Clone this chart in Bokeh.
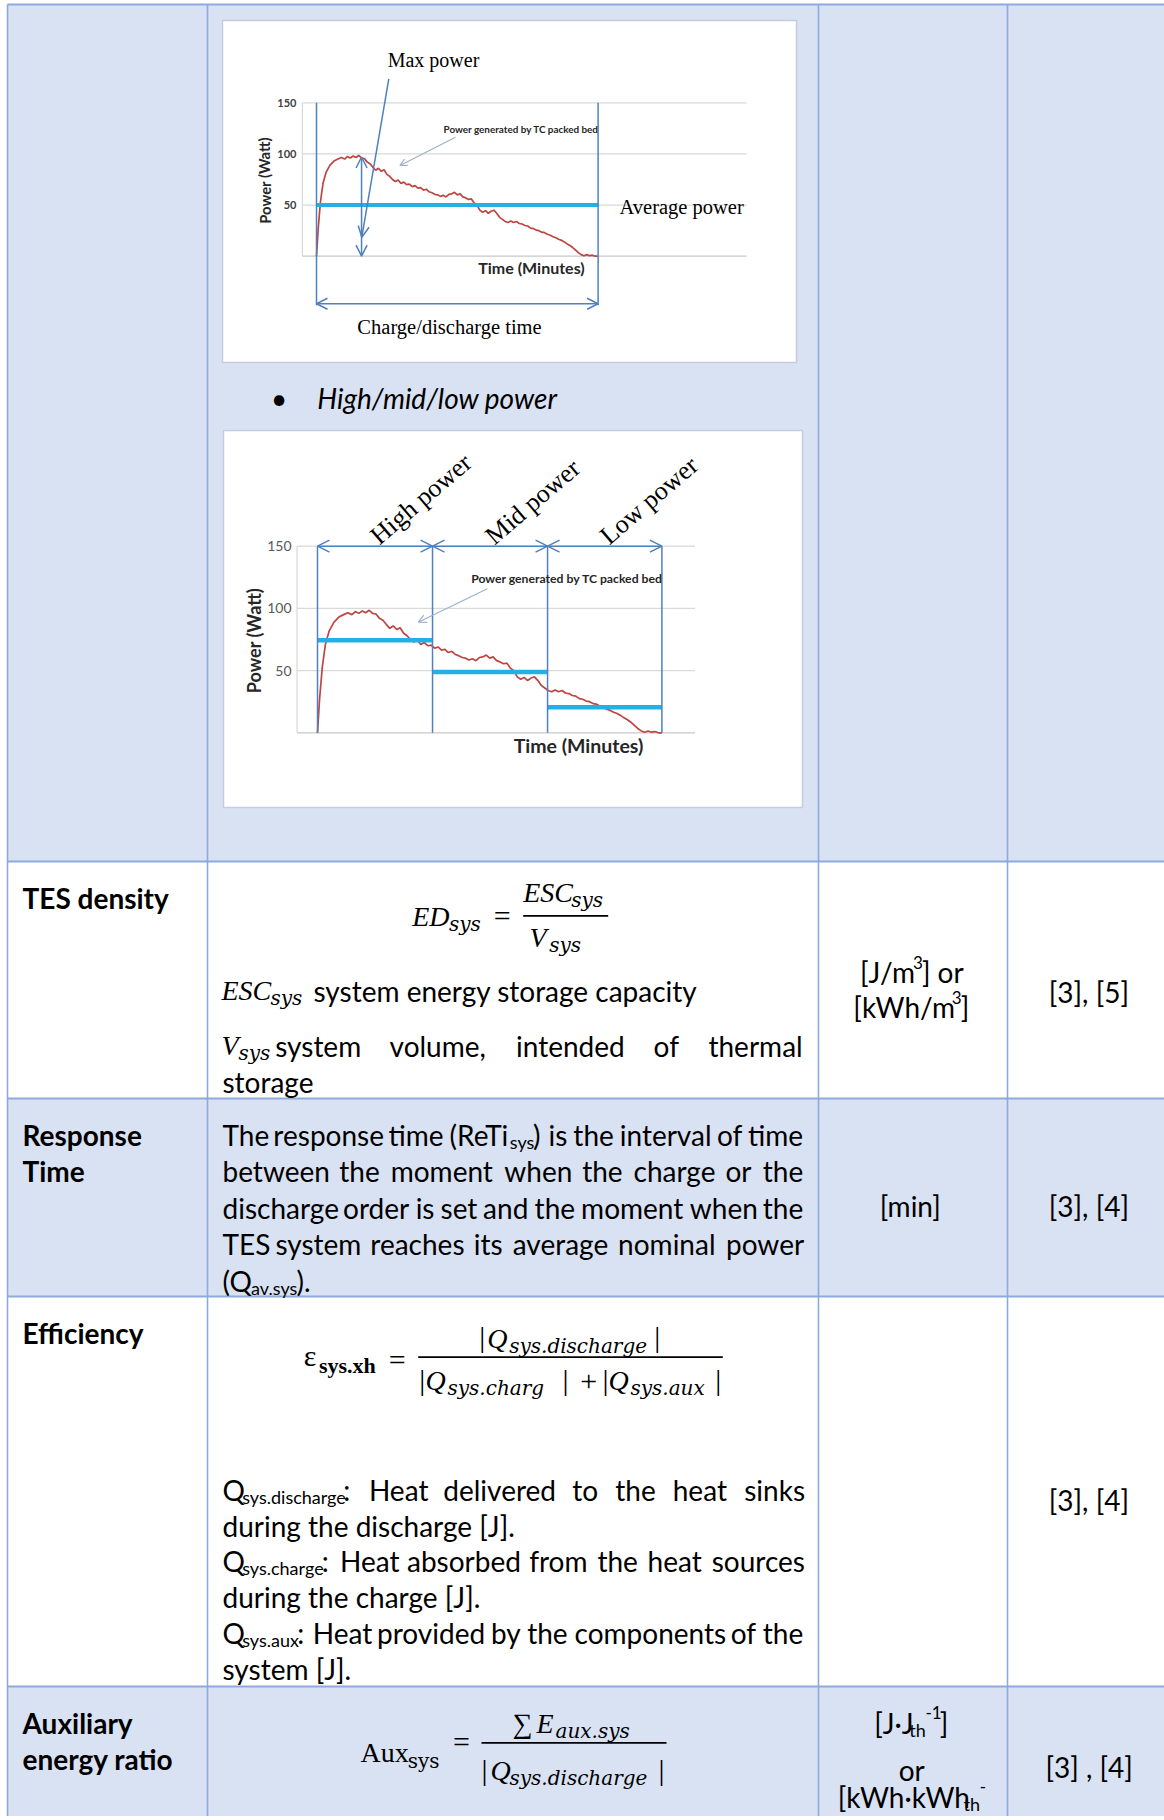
import re
from bokeh.plotting import figure
from bokeh.models import Range1d, ColumnDataSource, Arrow, OpenHead
from bokeh.core.properties import value
from bokeh.embed import file_html
from bokeh.resources import INLINE

# ---------------- data ----------------
time_rel = [0, 0.6, 1.4, 2.3, 3.4, 4.8, 6.2, 7.6, 8.8, 10, 11, 12, 13, 14, 15, 16, 17, 18, 19, 20,
            21, 22, 23, 24, 25, 26, 27, 28, 29, 30, 31, 32, 33, 34, 35, 36, 37, 38, 39, 40,
            41, 42, 43, 44, 45, 46, 47, 48, 49, 50, 51, 52, 53, 54, 55, 56, 57, 58, 59, 60,
            61, 62, 63, 64, 65, 66, 67, 68, 69, 70, 71, 72, 73, 74, 75, 76, 77, 78, 79, 80,
            81, 82, 83, 84, 85, 86, 87, 88, 89, 90, 91, 92, 93, 94, 95, 96, 97, 98, 99, 100]
power_w = [0, 27, 53, 71, 82, 89, 93, 95, 96.5, 95, 97.5, 96, 98, 96.5, 98.5, 96, 95.5, 92, 90.5, 87,
           84, 86, 83, 84.5, 80, 78, 75, 73, 74.5, 71, 72.5, 70, 70.5, 68, 69, 66.5, 67, 64.5, 65.5, 63,
           62, 60.5, 60, 58.5, 59.5, 58, 60.5, 61, 62.5, 60, 61, 58, 57, 55.5, 56, 52, 50, 45, 43, 44.5,
           42, 44, 45, 42, 38, 36, 34, 33, 34.5, 33, 34, 32, 31.5, 30, 29.5, 27.5, 27, 25.5, 25, 23.5,
           23, 21.5, 20.5, 19, 18, 16.5, 15.5, 14, 12, 10.5, 8.5, 6, 3.5, 1.5, 0.5, 1.5, 0.5, 1, 0, 0]
tick_values = [50, 100, 150]
avg_power = 50
phase_names = ["High power", "Mid power", "Low power"]
phase_edges = [0, 33.4, 66.8, 100]
phase_avg = [74.3, 48.8, 20.6]

# ---------------- table texts ----------------
row_labels = ["TES density", "Response", "Time", "Efficiency", "Auxiliary", "energy ratio"]
row_label_y = [897, 1134, 1170, 1332, 1722.7, 1758]
unit_lines = ["[J/m^{3}] or", "[kWh/m^{3}]", "[min]", "[J·J_{th}^{-1}]", "or", "[kWh·kWh_{th}^{-}"]
unit_y = [971.7, 1006.7, 1205.7, 1722, 1769, 1796]
ref_lines = ["[3], [5]", "[3], [4]", "[3], [4]", "[3] , [4]"]
ref_y = [991, 1205.7, 1499.6, 1766.7]
resp_lines = ["The response time (ReTi_{sys}) is the interval of time",
              "between the moment when the charge or the",
              "discharge order is set and the moment when the",
              "TES system reaches its average nominal power",
              "(Q_{av.sys})."]
resp_just = [True, True, True, True, False]
resp_y = [1134, 1170.5, 1207, 1243.5, 1280]
eff_lines = ["Q_{sys.discharge}: Heat delivered to the heat sinks",
             "during the discharge [J].",
             "Q_{sys.charge}: Heat absorbed from the heat sources",
             "during the charge [J].",
             "Q_{sys.aux}: Heat provided by the components of the",
             "system [J]."]
eff_just = [True, False, True, False, True, False]
eff_y = [1489.5, 1525, 1560.5, 1596, 1632, 1668.6]

# ---------------- page / figure ----------------
W, H = 1164, 1816
X0, X1, Y0, Y1 = 0, W, 0, H
p = figure(width=W, height=H, x_range=Range1d(X0, X1), y_range=Range1d(Y1, Y0),
           output_backend="svg", toolbar_location=None, x_axis_type=None, y_axis_type=None,
           min_border=0, outline_line_color=None)
p.background_fill_color = "white"
p.border_fill_color = "white"


def lin_range(px_a, v_a, px_b, v_b, px_start, px_end):
    k = (v_b - v_a) / (px_b - px_a)
    return Range1d(start=v_a + (px_start - px_a) * k, end=v_a + (px_end - px_a) * k)


p.extra_x_ranges = {"c1x": lin_range(316, 0, 597.6, 100, X0, X1),
                    "c2x": lin_range(317, 0, 661.4, 100, X0, X1)}
p.extra_y_ranges = {"c1y": lin_range(255.7, 0, 102.3, 150, Y1, Y0),
                    "c2y": lin_range(732.3, 0, 545.7, 150, Y1, Y0)}

SHADE = "#D9E2F3"
RULE = "#8EAADB"
BLUE = "#4F81BD"
CYAN = "#22B0E6"
RED = "#BE4540"
GRID = "#D9D9D9"


def T(x, y, s, size, font="Lato", style="normal", color="#000000", align="left",
      baseline="middle", angle=0.0, xr="default", yr="default", xo=0, yo=0):
    p.text(x=[x], y=[y], text=[s], text_font=value(font), text_font_size=value(f"{size:.1f}px"),
           text_font_style=style, text_color=color, text_align=align, text_baseline=baseline,
           angle=angle, x_offset=xo, y_offset=yo, x_range_name=xr, y_range_name=yr)


# ---------------- table structure ----------------
row_edges = [4, 861, 1098, 1296, 1686, 1830]
row_fill = [SHADE, "white", SHADE, "white", SHADE]
col_edges = [7, 207, 818, 1007, 1170]
p.quad(left=col_edges[0], right=col_edges[-1], top=row_edges[:-1], bottom=row_edges[1:],
       fill_color=row_fill, line_color=None)
p.segment(x0=col_edges, x1=col_edges, y0=row_edges[0], y1=row_edges[-1], line_color=RULE, line_width=1.6)
p.segment(x0=col_edges[0], x1=col_edges[-1], y0=row_edges, y1=row_edges, line_color=RULE, line_width=2.2)

# picture frames
p.quad(left=[222, 223], right=[796, 802], top=[20, 430], bottom=[362, 807],
       fill_color="white", line_color="#C5CBE0", line_width=1.5)

# ---------------- chart 1 ----------------
c1 = dict(x_range_name="c1x", y_range_name="c1y")
c1_t = (-5.0, 152.7)
p.segment(x0=c1_t[0], x1=c1_t[1], y0=tick_values, y1=tick_values, line_color=GRID, line_width=1.2, **c1)
p.segment(x0=c1_t[0], x1=c1_t[1], y0=0, y1=0, line_color="#C8C8C8", line_width=1.2, **c1)
p.segment(x0=c1_t[0], x1=c1_t[0], y0=0, y1=max(tick_values), line_color=GRID, line_width=1.2, **c1)
p.text(x=[c1_t[0]] * len(tick_values), y=tick_values, text=[str(v) for v in tick_values],
       text_font=value("Lato"), text_font_size="11px", text_font_style="bold", text_color="#404040",
       text_align="right", text_baseline="middle", x_offset=-6, **c1)
src = ColumnDataSource(dict(t=time_rel, pw=power_w))
p.line("t", "pw", source=src, line_color=RED, line_width=1.7, **c1)
p.segment(x0=time_rel[0], x1=time_rel[-1], y0=avg_power, y1=avg_power, line_color=CYAN, line_width=4, **c1)
p.segment(x0=[time_rel[0], time_rel[-1]], x1=[time_rel[0], time_rel[-1]], y0=150, y1=-48,
          line_color=BLUE, line_width=1.5, **c1)
p.add_layout(Arrow(start=OpenHead(size=11, line_color=BLUE, line_width=1.5),
                   end=OpenHead(size=11, line_color=BLUE, line_width=1.5),
                   x_start=time_rel[0], y_start=-46.5, x_end=time_rel[-1], y_end=-46.5,
                   line_color=BLUE, line_width=1.5, **c1))
i_peak = power_w.index(max(power_w))
t_peak = time_rel[i_peak] + 1
p.add_layout(Arrow(start=OpenHead(size=11, line_color=BLUE, line_width=1.5),
                   end=OpenHead(size=11, line_color=BLUE, line_width=1.5),
                   x_start=t_peak, y_start=power_w[i_peak] - 1.5, x_end=t_peak, y_end=0,
                   line_color=BLUE, line_width=1.5, **c1))
p.add_layout(Arrow(end=OpenHead(size=11, line_color=BLUE, line_width=1.5),
                   x_start=388.3, y_start=78.3, x_end=361.3, y_end=236.7,
                   line_color=BLUE, line_width=1.5))
p.add_layout(Arrow(end=OpenHead(size=7, line_color="#9FB0C8", line_width=1.2),
                   x_start=455, y_start=136.7, x_end=399.4, y_end=165,
                   line_color="#9FB0C8", line_width=1.2))
T(433, 59, "Max power", 20, font="Liberation Serif", align="center")
T(619, 206, "Average power", 20.5, font="Liberation Serif")
T(449, 326, "Charge/discharge time", 20.5, font="Liberation Serif", align="center")
T(264, 180, "Power (Watt)", 14.8, style="bold", color="#262626", align="center", angle=1.5708)
T(531, 267, "Time (Minutes)", 16, style="bold", color="#262626", align="center")
T(443, 128, "Power generated by TC packed bed", 9.9, style="bold", color="#262626")

# ---------------- bullet ----------------
T(278.5, 397, "•", 28, align="center")
T(316.8, 397, "High/mid/low power", 28, style="italic")

# ---------------- chart 2 ----------------
c2 = dict(x_range_name="c2x", y_range_name="c2y")
c2_t = (-5.95, 109.6)
p.segment(x0=c2_t[0], x1=c2_t[1], y0=tick_values, y1=tick_values, line_color=GRID, line_width=1.2, **c2)
p.segment(x0=c2_t[0], x1=c2_t[1], y0=0, y1=0, line_color="#C8C8C8", line_width=1.2, **c2)
p.segment(x0=c2_t[0], x1=c2_t[0], y0=0, y1=max(tick_values), line_color=GRID, line_width=1.2, **c2)
p.text(x=[c2_t[0]] * len(tick_values), y=tick_values, text=[str(v) for v in tick_values],
       text_font=value("Lato"), text_font_size="14px", text_color="#595959",
       text_align="right", text_baseline="middle", x_offset=-5.5, **c2)
p.line("t", "pw", source=src, line_color=RED, line_width=1.7, **c2)
p.segment(x0=phase_edges[:-1], x1=phase_edges[1:], y0=phase_avg, y1=phase_avg,
          line_color=CYAN, line_width=4.5, **c2)
p.segment(x0=phase_edges, x1=phase_edges, y0=0, y1=max(tick_values), line_color=BLUE, line_width=1.5, **c2)
for a, b in zip(phase_edges[:-1], phase_edges[1:]):
    p.add_layout(Arrow(start=OpenHead(size=12, line_color=BLUE, line_width=1.5),
                       end=OpenHead(size=12, line_color=BLUE, line_width=1.5),
                       x_start=a, y_start=max(tick_values), x_end=b, y_end=max(tick_values),
                       line_color=BLUE, line_width=1.5, **c2))
mids = [(a + b) / 2 for a, b in zip(phase_edges[:-1], phase_edges[1:])]
p.text(x=mids, y=[max(tick_values)] * 3, text=phase_names, text_font=value("Liberation Serif"),
       text_font_size="26px", text_color="#000000", text_align="left", text_baseline="alphabetic",
       angle=0.708, x_offset=-1, y_offset=-7, **c2)
p.add_layout(Arrow(end=OpenHead(size=8, line_color="#9FB0C8", line_width=1.2),
                   x_start=486.8, y_start=588.3, x_end=417.8, y_end=621.7,
                   line_color="#9FB0C8", line_width=1.2))
T(253.6, 640, "Power (Watt)", 18, style="bold", color="#262626", align="center", angle=1.5708)
T(578, 745, "Time (Minutes)", 19.5, style="bold", color="#262626", align="center")
T(470.7, 577.7, "Power generated by TC packed bed", 12.2, style="bold", color="#262626")

# ---------------- text layout helpers ----------------
CALW = dict(zip("ABCDEFGHIJKLMNOPQRSTUVWXYZ",
                [.579, .544, .533, .615, .488, .459, .631, .623, .252, .319, .520, .420, .855, .646,
                 .662, .517, .673, .543, .459, .487, .642, .567, .890, .519, .487, .468]))
CALW.update(zip("abcdefghijklmnopqrstuvwxyz",
                [.479, .525, .423, .525, .498, .305, .471, .525, .229, .239, .455, .229, .799, .525,
                 .527, .525, .525, .349, .391, .335, .525, .452, .715, .433, .453, .395]))
CALW.update({" ": .226, ".": .252, ",": .250, ":": .268, "(": .303, ")": .303, "[": .307, "]": .307,
             "/": .386, "·": .252, "-": .306})
for d in "0123456789":
    CALW[d] = .507
EST_K = 1.045
BODY, SUB, SUP = 28, 18, 17
STY = {"n": ("normal", BODY, 0), "b": ("bold", BODY, 0), "sub": ("normal", SUB, 7), "sup": ("normal", SUP, -10)}


def est(s, size):
    return sum(CALW.get(c, .5) for c in s) * size * EST_K


def parse(s):
    runs = []
    for m in re.finditer(r"_\{([^}]*)\}|\^\{([^}]*)\}|([^_^]+)", s):
        if m.group(1) is not None:
            runs.append((m.group(1), "sub"))
        elif m.group(2) is not None:
            runs.append((m.group(2), "sup"))
        else:
            runs.append((m.group(3), "n"))
    return runs


def runs_width(runs):
    return sum(est(s, STY[k][1]) for s, k in runs)


def draw_runs(x, y, runs, align="left"):
    w = runs_width(runs)
    if align == "center":
        x -= w / 2
    elif align == "right":
        x -= w
    for s, k in runs:
        style, size, dy = STY[k]
        T(x, y + dy, s, size, style=style)
        x += est(s, size)


def justify(y, line, x_left=222, x_right=802):
    words = [parse(w) for w in line.split(" ")]
    widths = [runs_width(w) for w in words]
    gap = (x_right - x_left - sum(widths)) / (len(words) - 1)
    x = x_left
    for i, (w, wd) in enumerate(zip(words, widths)):
        if i == len(words) - 1:
            draw_runs(x_right, y, w, align="right")
        else:
            draw_runs(x, y, w)
        x += wd + gap


def body(lines, just, ys):
    for line, j, y in zip(lines, just, ys):
        if j:
            justify(y, line)
        else:
            draw_runs(222, y, parse(line))


# ---------------- column 1 labels ----------------
for s, y in zip(row_labels, row_label_y):
    T(22, y, s, BODY, style="bold")

# ---------------- units / references ----------------
for s, y in zip(unit_lines, unit_y):
    draw_runs(911, y, parse(s), align="center")
for s, y in zip(ref_lines, ref_y):
    draw_runs(1088, y, parse(s), align="center")

# ---------------- body paragraphs ----------------
body(resp_lines, resp_just, resp_y)
body(eff_lines, eff_just, eff_y)

# ---------------- formulas ----------------
MF = "Liberation Serif"
SF = "DejaVu Serif"
KMID = 0.30


def M(x, base, s, size=28, style="italic", align="left", font=MF):
    # glyph placed by its baseline, drawn with a middle anchor
    T(x, base - KMID * size, s, size, font=font, style=style, align=align)


def S(x, base, s, style="italic", dx=-3):
    M(x + dx, base, s, 20, style, "left", SF)


def C(x, center, s, size=30):
    T(x, center - 0.06 * size, s, size, font=MF, align="center")


def bar(x0, x1, y):
    p.segment(x0=[x0], x1=[x1], y0=[y], y1=[y], line_color="black", line_width=1.8)


# TES density
M(411.7, 924.7, "ED"); S(448.5, 929.5, "sys", dx=0)
C(501.7, 917, "=")
M(522.7, 900.3, "ESC"); S(571.7, 905.3, "sys", dx=-1)
M(529, 945.3, "V"); S(551.7, 950, "sys")
bar(522.7, 607.7, 915.3)
M(221, 998, "ESC"); S(271, 1003, "sys", dx=-1)
draw_runs(313, 990, parse("system energy storage capacity"))
M(221, 1053, "V"); S(241, 1058, "sys")
justify(1045, "system volume, intended of thermal", x_left=274.7)
draw_runs(222, 1081, parse("storage"))

# Efficiency
M(303.3, 1364, "ε", 30, "normal"); M(318.5, 1371.7, "sys.xh", 22, "bold")
C(396.7, 1361, "=")
C(481.7, 1337.4, "|"); M(486.7, 1346.7, "Q"); S(511.7, 1351.5, "sys.discharge")
C(656.7, 1337.4, "|")
bar(417.7, 722.3, 1356.7)
C(421.7, 1380.9, "|"); M(425, 1388.3, "Q"); S(450, 1393, "sys.charg")
C(565, 1380.9, "|"); C(588.3, 1382.7, "+")
C(605, 1380.9, "|"); M(608, 1388.3, "Q"); S(633, 1393, "sys.aux")
C(717.7, 1380.9, "|")

# Auxiliary energy ratio
M(360, 1760, "Aux", 28, "normal"); S(408.3, 1766.7, "sys", "normal", dx=-1)
C(461, 1743, "=")
bar(481, 666, 1742.3)
M(512, 1731, "∑", 28, "normal"); M(536, 1731, "E"); S(557, 1736, "aux.sys", dx=-2)
C(484, 1770.4, "|"); M(490, 1778.5, "Q"); S(512, 1783, "sys.discharge")
C(661, 1770.4, "|")

open("out.html", "w").write(file_html(p, INLINE))
